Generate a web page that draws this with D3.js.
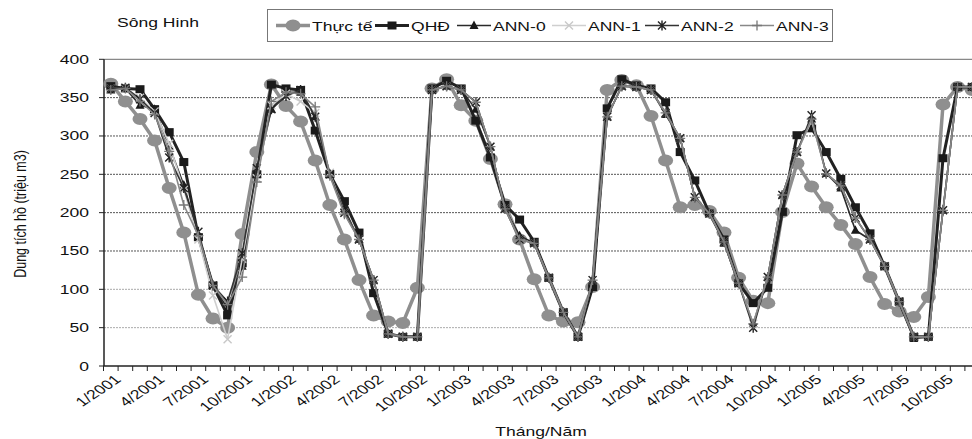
<!DOCTYPE html>
<html><head><meta charset="utf-8">
<script src="https://cdn.jsdelivr.net/npm/d3@7"></script>
<style>html,body{margin:0;padding:0;background:#fff;overflow:hidden}text{font-family:"Liberation Sans",Arial,sans-serif;fill:#111}</style>
</head><body><svg id="c" width="972" height="439"></svg>
<script>
const months = [];
for (let y = 2001; y <= 2005; y++) for (let m = 1; m <= 12; m++) months.push(m + "/" + y);
const tickLabels = ["1/2001","4/2001","7/2001","10/2001","1/2002","4/2002","7/2002","10/2002","1/2003","4/2003","7/2003","10/2003","1/2004","4/2004","7/2004","10/2004","1/2005","4/2005","7/2005","10/2005"];
const yTicks = [0,50,100,150,200,250,300,350,400];

const thucTe = [368,345,322,294,232,174,93,62,50,172,279,367, 339,319,268,210,165,112,66,58,56,102,362,374, 340,320,270,211,165,113,66,58,57,103,360,373, 366,326,268,207,210,202,174,115,85,82,201,264, 234,207,184,159,116,81,71,64,90,341,364,360];
const qhd = [365,362,361,335,305,266,168,105,66,134,250,367, 362,360,307,250,215,174,95,42,38,38,362,372, 362,320,272,210,191,162,115,70,38,103,336,374, 366,362,344,279,242,199,165,108,82,102,201,301, 310,279,244,207,173,130,84,38,38,271,364,364];
const ann0 = [360,362,340,335,287,236,170,105,75,130,250,335, 357,357,325,250,205,165,112,42,38,38,360,365, 360,335,286,205,170,160,115,70,38,112,325,365, 364,360,328,297,220,199,160,108,55,116,223,279, 322,251,232,177,165,130,84,36,38,203,364,364];
const ann1 = [362,362,350,332,290,230,165,92,35,140,245,340, 355,345,330,252,200,165,112,42,38,38,360,365, 360,344,286,205,165,160,115,70,38,112,325,365, 364,360,330,297,220,199,162,108,55,116,223,279, 320,251,235,193,165,130,84,38,38,203,364,364];
const ann2 = [362,363,348,330,272,232,175,105,84,147,258,335, 352,360,325,250,200,165,112,42,38,38,360,365, 360,344,286,205,165,160,115,70,38,112,325,365, 364,360,330,297,220,199,162,108,50,116,223,279, 327,251,235,193,165,130,84,38,38,203,364,364];
const ann3 = [360,362,345,328,280,210,170,105,80,116,240,345, 357,355,338,248,198,165,112,42,38,38,360,365, 360,344,286,205,165,160,115,70,38,112,325,365, 364,360,330,297,220,199,162,108,55,116,223,279, 322,251,235,193,165,130,84,38,38,203,364,364];
const seriesNames = ["Thực tế","QHĐ","ANN-0","ANN-1","ANN-2","ANN-3"];

const SX = 1.35;
const svg = d3.select("#c");
svg.append("rect").attr("width",972).attr("height",439).attr("fill","#fff");
const x = d3.scaleBand().domain(months).range([103.5, 103.5 + 60*14.6]).padding(0);
const y = d3.scaleLinear().domain([0,400]).range([366, 59.3]);
const cx = m => x(m) + x.bandwidth()/2;

function txt(g, px, py, s, anchor, size, rot) {
  return g.append("text").attr("text-anchor", anchor).attr("font-size", size)
    .attr("transform", `translate(${px},${py}) scale(${SX},1)` + (rot ? ` rotate(${rot})` : ""))
    .text(s);
}

// grid
const grid = svg.append("g");
yTicks.filter(v => v > 0 && v < 400).forEach(v => {
  grid.append("line").attr("x1",104).attr("x2",972).attr("y1",y(v)).attr("y2",y(v))
    .attr("stroke", v <= 100 ? "#aaa" : "#555").attr("stroke-width",1).attr("stroke-dasharray","2,1");
});
grid.append("line").attr("x1",104).attr("x2",972).attr("y1",y(400)).attr("y2",y(400)).attr("stroke","#888").attr("stroke-width",1.2);

// axes
const yAxis = svg.append("g");
yAxis.append("line").attr("x1",104).attr("x2",104).attr("y1",y(400)).attr("y2",y(0)).attr("stroke","#222").attr("stroke-width",1.5);
yTicks.forEach(v => {
  yAxis.append("line").attr("x1",99).attr("x2",104).attr("y1",y(v)).attr("y2",y(v)).attr("stroke","#222");
  txt(yAxis, 89, y(v)+4.5, String(v), "end", 13);
});
const xAxis = svg.append("g");
xAxis.append("line").attr("x1",103.5).attr("x2",972).attr("y1",y(0)).attr("y2",y(0)).attr("stroke","#222").attr("stroke-width",1.5);
d3.range(61).forEach(i => {
  const px = 103.5 + i*x.bandwidth();
  xAxis.append("line").attr("x1",px).attr("x2",px).attr("y1",366).attr("y2",371).attr("stroke","#222");
});
tickLabels.forEach(l => {
  txt(xAxis, cx(l)+3, 374, l, "end", 13, -42).attr("dy","0.7em");
});

// series
const line = d3.line().x((d,i) => cx(months[i])).y(d => y(d));
const styles = [
  {data: thucTe, color:"#8f8f8f", w:3.5, marker:"circle", mc:"#8f8f8f"},
  {data: qhd, color:"#222", w:3, marker:"square", mc:"#1a1a1a"},
  {data: ann0, color:"#2a2a2a", w:1.6, marker:"triangle", mc:"#1a1a1a"},
  {data: ann1, color:"#cfcfcf", w:1.6, marker:"x", mc:"#c8c8c8"},
  {data: ann2, color:"#333", w:1.6, marker:"star", mc:"#222"},
  {data: ann3, color:"#888", w:1.6, marker:"plus", mc:"#777"}
];
function drawMarker(g, type, px, py, c) {
  if (type === "circle") g.append("ellipse").attr("cx",px).attr("cy",py).attr("rx",7.5).attr("ry",6).attr("fill",c);
  else if (type === "square") g.append("rect").attr("x",px-4.5).attr("y",py-4).attr("width",9).attr("height",8).attr("fill",c);
  else if (type === "triangle") g.append("path").attr("d",`M${px},${py-5}L${px+4.5},${py+3.5}L${px-4.5},${py+3.5}Z`).attr("fill",c);
  else if (type === "x") g.append("path").attr("d",`M${px-4},${py-4}L${px+4},${py+4}M${px-4},${py+4}L${px+4},${py-4}`).attr("stroke",c).attr("stroke-width",1.4);
  else if (type === "star") g.append("path").attr("d",`M${px-4},${py-4}L${px+4},${py+4}M${px-4},${py+4}L${px+4},${py-4}M${px},${py-5}L${px},${py+5}`).attr("stroke",c).attr("stroke-width",1.4);
  else if (type === "plus") g.append("path").attr("d",`M${px-5},${py}L${px+5},${py}M${px},${py-5}L${px},${py+5}`).attr("stroke",c).attr("stroke-width",1.3);
}
const plot = svg.append("g");
styles.forEach(s => {
  const g = plot.append("g");
  g.append("path").attr("d", line(s.data)).attr("fill","none").attr("stroke",s.color).attr("stroke-width",s.w).attr("stroke-linejoin","round");
  s.data.forEach((v,i) => drawMarker(g, s.marker, cx(months[i]), y(v), s.mc));
});

// title
txt(svg, 117, 27, "Sông Hinh", "start", 13);
// legend
const lg = svg.append("g");
lg.append("rect").attr("x",267.5).attr("y",9.5).attr("width",565).attr("height",32).attr("fill","#fff").attr("stroke","#777").attr("stroke-width",1);
const legX = [276, 375, 457, 552, 645, 740];
styles.forEach((s,i) => {
  const lx = legX[i];
  lg.append("line").attr("x1",lx).attr("x2",lx+34).attr("y1",25.5).attr("y2",25.5).attr("stroke",s.color).attr("stroke-width",s.w);
  drawMarker(lg, s.marker, lx+17, 25.5, s.mc);
  txt(lg, lx+36, 30.5, seriesNames[i], "start", 13);
});
// axis titles
txt(svg, 541, 436, "Tháng/Năm", "middle", 13);
svg.append("text").attr("text-anchor","middle").attr("font-size",12.5)
  .attr("transform","translate(26,214) scale(1.25,1) rotate(-90)").text("Dung tích hồ (triệu m3)");
</script></body></html>
